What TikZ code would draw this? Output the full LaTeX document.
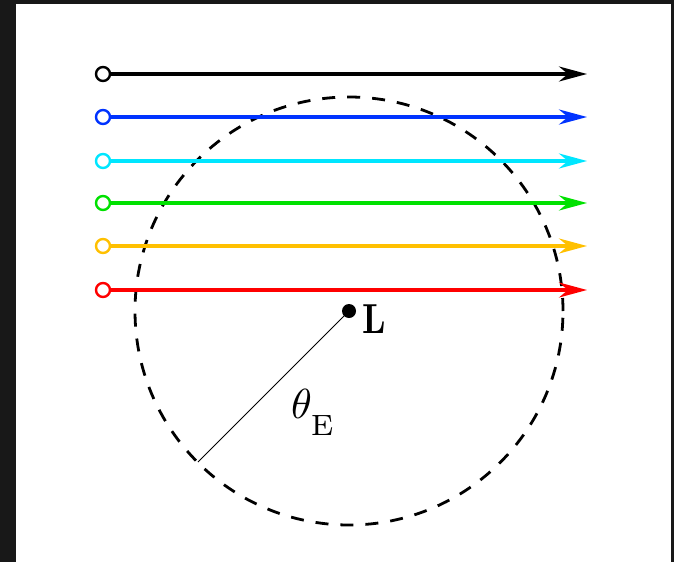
\documentclass[tikz,border=0pt]{standalone}
\usetikzlibrary{arrows.meta}
\definecolor{rayblue}{RGB}{0,51,255}
\definecolor{raycyan}{RGB}{0,230,255}
\definecolor{raygreen}{RGB}{0,225,0}
\definecolor{rayorange}{RGB}{255,192,0}
\definecolor{rayred}{RGB}{255,0,0}
\definecolor{spacebg}{RGB}{24,24,24}
\begin{document}
\begin{tikzpicture}[x=1pt,y=-1pt,
  src/.style={circle,draw=#1,line width=2.4pt,minimum size=14pt,inner sep=0pt,fill=white},
  ray/.style={draw=#1,line width=3.2pt,-{Stealth[length=28pt,width=15pt,inset=9pt]}},
  lbl/.style={anchor=base west,inner sep=0pt,font=\fontsize{10}{12}\selectfont},
  ering/.style={line width=2.8pt,dash pattern=on 13pt off 12pt}]
  % background
  \fill[spacebg] (0,0) rectangle (674,562);
  \fill[white] (16,4) rectangle (671,562);
  \useasboundingbox (0,0) rectangle (674,562);
  % Einstein ring and lens
  \node[circle,fill=black,inner sep=0pt,minimum size=14pt] (L) at (349,311) {};
  \draw[ering] (L.center) circle[radius=214pt];
  \coordinate (E) at (198,462);
  \draw[line width=0.8pt] (L.center) -- (E);
  % rays
  \foreach \i/\c/\y in {1/black/74,2/rayblue/117,3/raycyan/161,4/raygreen/203,5/rayorange/246,6/rayred/290}{
    \node[src=\c] (s\i) at (103,\y) {};
    \coordinate (t\i) at (587,\y);
    \draw[ray=\c] (s\i) -- (t\i);
  }
  % labels
  \node[lbl] (Llab) at (362,333) {\scalebox{3.4}[4.2]{\bfseries L}};
  \node[lbl] (thE) at (291,418) {\scalebox{4.2}{$\theta_{\raisebox{-2.6pt}{$\scriptstyle\mathrm{E}$}}$}};
\end{tikzpicture}
\end{document}
